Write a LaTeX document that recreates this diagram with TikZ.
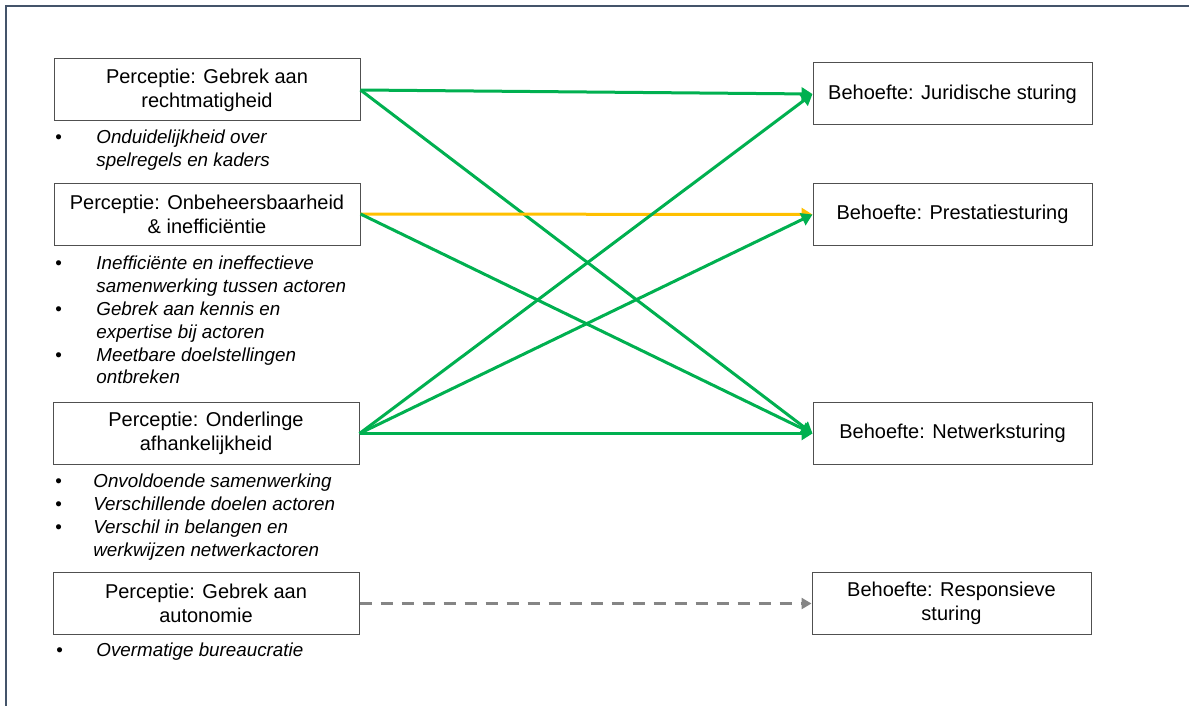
\documentclass[tikz,border=0pt]{standalone}
\usepackage{fontspec}
\setmainfont{Liberation Sans}
\usepackage{xcolor}
\usepackage{tikz}
\usetikzlibrary{arrows.meta}
\definecolor{StGreen}{HTML}{00B050}
\definecolor{StYellow}{HTML}{FFC000}
\definecolor{StGray}{HTML}{858585}
\definecolor{StFrame}{HTML}{44546A}
\definecolor{StLine}{HTML}{505050}

\begin{document}
\begin{tikzpicture}[
    x=0.5pt,y=-0.5pt,
    box/.style={draw=StLine, line width=0.5pt, minimum height=31pt, align=center, inner sep=2pt, font=\fontsize{10}{12}\selectfont},
    perc/.style={box, minimum width=153pt},
    need/.style={box, minimum width=139.5pt},
    notes/.style={anchor=base west, inner sep=0pt, align=left, font=\fontsize{9.4}{11.5}\selectfont\itshape},
    link/.style={-{Triangle[length=5.5pt,width=6.5pt]}, line width=1.5pt},
    strong/.style={link, draw=StGreen},
    weak/.style={link, draw=StYellow},
    loose/.style={link, draw=StGray, line width=1.7pt, dash pattern=on 6pt off 4.5pt, -{Triangle[length=5pt,width=5.5pt]}}
  ]
    \useasboundingbox (0,0) rectangle (1189,706);
    \draw[StFrame, line width=0.75pt] (6,706) -- (6,6) -- (1189,6);

    % percepties
    \node[perc] (l1) at (207,90) {Perceptie: Gebrek aan\\rechtmatigheid};
    \node[perc] (l2) at (207,214) {Perceptie: Onbeheersbaarheid\\\& inefficiëntie};
    \node[perc] (l3) at (206,433.5) {Perceptie: Onderlinge\\afhankelijkheid};
    \node[perc] (l4) at (206,603.5) {Perceptie: Gebrek aan\\autonomie};

    % behoeften
    \node[need] (r1) at (952.5,94) {Behoefte: Juridische sturing};
    \node[need] (r2) at (952.5,214.5) {Behoefte: Prestatiesturing};
    \node[need] (r3) at (952.5,433.5) {Behoefte: Netwerksturing};
    \node[need] (r4) at (951.5,603.5) {Behoefte: Responsieve\\sturing};

    \node[notes] (n1) at (55,144) {\begin{tabular}[t]{@{}p{20.5pt}@{}l@{}}
      \upshape\textbullet & Onduidelijkheid over\\ & spelregels en kaders\end{tabular}};
    \node[notes] (n2) at (55,269) {\begin{tabular}[t]{@{}p{20.5pt}@{}l@{}}
      \upshape\textbullet & Inefficiënte en ineffectieve\\ & samenwerking tussen actoren\\
      \upshape\textbullet & Gebrek aan kennis en\\ & expertise bij actoren\\
      \upshape\textbullet & Meetbare doelstellingen\\ & ontbreken\end{tabular}};
    \node[notes] (n3) at (55,487) {\begin{tabular}[t]{@{}p{19pt}@{}l@{}}
      \upshape\textbullet & Onvoldoende samenwerking\\
      \upshape\textbullet & Verschillende doelen actoren\\
      \upshape\textbullet & Verschil in belangen en\\ & werkwijzen netwerkactoren\end{tabular}};
    \node[notes] (n4) at (56,656) {\begin{tabular}[t]{@{}p{20pt}@{}l@{}}
      \upshape\textbullet & Overmatige bureaucratie\end{tabular}};

    \draw[strong] (l1.east) -- (r1.west);
    \draw[strong] (l1.east) -- (r3.west);
    \draw[weak] (l2.east) -- (r2.west);
    \draw[strong] (l2.east) -- (r3.west);
    \draw[strong] (l3.east) -- (r1.west);
    \draw[strong] (l3.east) -- (r2.west);
    \draw[strong] (l3.east) -- (r3.west);
    \draw[loose] (l4.east) -- (r4.west);
  \end{tikzpicture}
\end{document}
